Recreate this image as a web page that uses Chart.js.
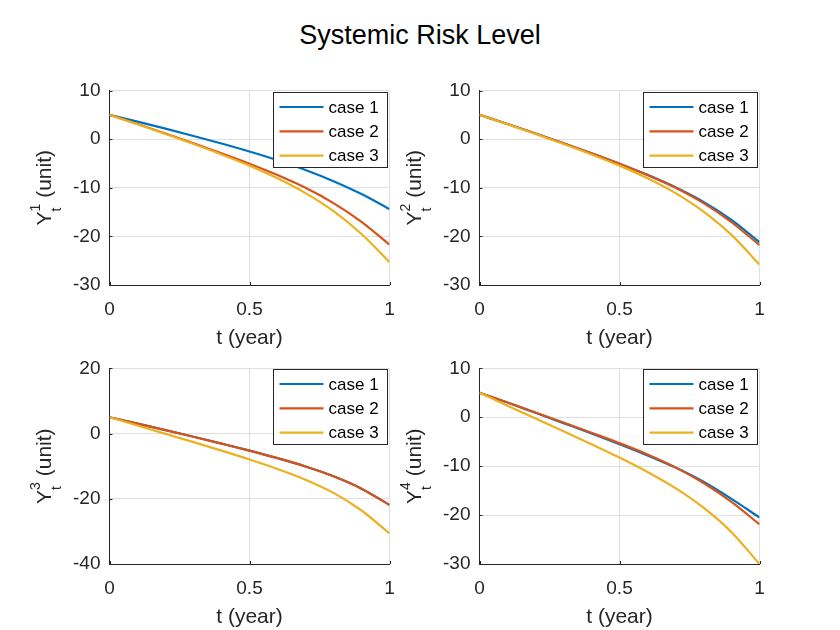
<!DOCTYPE html>
<html lang="en">
<head>
    <meta charset="UTF-8">
    <title>Systemic Risk Level</title>
    <script src="https://cdn.jsdelivr.net/npm/chart.js"></script>
    <style>
        body { margin: 0; background: #fff; }
        #page { position: relative; width: 840px; height: 630px; overflow: hidden; }
        #title {
            position: absolute; left: 0; top: 22px; width: 840px;
            text-align: center; font: 27px "Liberation Sans", Arial, sans-serif;
            line-height: 27px; color: #000;
        }
        canvas { position: absolute; }
    </style>
</head>
<body>
<div id="page">
    <div id="title">Systemic Risk Level</div>
    <canvas id="p1" width="470" height="300" style="left:0;top:60px"></canvas>
    <canvas id="p2" width="470" height="300" style="left:370px;top:60px"></canvas>
    <canvas id="p3" width="470" height="290" style="left:0;top:340px"></canvas>
    <canvas id="p4" width="470" height="290" style="left:370px;top:340px"></canvas>
</div>

<script>
    // time grid (year)
    const tValues = [0, 0.1, 0.2, 0.3, 0.4, 0.5, 0.6, 0.7, 0.8, 0.9, 1];
    const caseLabels = ['case 1', 'case 2', 'case 3'];
    const caseColors = ['#0072BD', '#D95319', '#EDB120'];

    // values
    const y1Case1 = [5, 3.6, 2.15, 0.65, -0.9, -2.55, -4.35, -6.35, -8.65, -11.3, -14.4];
    const y1Case2 = [5, 3.1, 1.15, -0.85, -2.9, -5.05, -7.4, -10.0, -13.15, -17.0, -21.7];
    const y1Case3 = [5, 3.05, 1.05, -1.0, -3.15, -5.45, -8.05, -11.1, -14.8, -19.5, -25.3];

    const y2Case1 = [5, 3.1, 1.15, -0.85, -2.9, -5.05, -7.35, -9.9, -12.9, -16.6, -21.2];
    const y2Case2 = [5, 3.1, 1.15, -0.85, -2.9, -5.05, -7.4, -10.0, -13.15, -17.05, -21.8];
    const y2Case3 = [5, 3.05, 1.05, -1.0, -3.15, -5.45, -8.05, -11.1, -14.9, -19.7, -25.8];

    const y3Case1 = [5, 3.05, 1.05, -1.0, -3.1, -5.25, -7.55, -10.1, -13.1, -16.9, -21.9];
    const y3Case2 = [5, 3.05, 1.05, -1.0, -3.1, -5.25, -7.55, -10.1, -13.1, -16.9, -21.9];
    const y3Case3 = [5, 2.45, -0.1, -2.65, -5.25, -7.95, -10.85, -14.15, -18.2, -23.6, -30.6];

    const y4Case1 = [5, 3.0, 0.9, -1.2, -3.3, -5.5, -7.8, -10.3, -13.2, -16.7, -20.5];
    const y4Case2 = [5, 3.0, 0.98, -1.08, -3.17, -5.3, -7.6, -10.25, -13.45, -17.3, -21.9];
    const y4Case3 = [5, 2.35, -0.25, -2.85, -5.5, -8.25, -11.2, -14.5, -18.5, -23.5, -30.0];

    // tick labels
    const xTicks = [0, 0.5, 1];
    const yTicksA = [-30, -20, -10, 0, 10];
    const yTicksB = [-40, -20, 0, 20];

    const FONT = '"Liberation Sans", Arial, sans-serif';
    const AXIS = '#262626';
    Chart.defaults.font.family = FONT;
    Chart.defaults.color = AXIS;

    // legend box, y label with super/subscript, inward ticks
    const matlabLook = {
        id: 'matlabLook',
        afterDatasetsDraw(chart, args, opts) {
            const ctx = chart.ctx, ca = chart.chartArea;
            // inward tick marks
            ctx.save();
            ctx.strokeStyle = AXIS;
            ctx.lineWidth = 1;
            const ys = chart.scales.y, xs = chart.scales.x;
            ctx.beginPath();
            ys.ticks.forEach(t => {
                const py = Math.round(ys.getPixelForValue(t.value)) + 0.5;
                ctx.moveTo(ca.left, py); ctx.lineTo(ca.left + 3, py);
            });
            xs.ticks.forEach(t => {
                const px = Math.round(xs.getPixelForValue(t.value)) + 0.5;
                ctx.moveTo(px, ca.bottom); ctx.lineTo(px, ca.bottom - 3);
            });
            ctx.stroke();

            // legend
            const w = 114, h = 75;
            const x1 = Math.round(ca.right - 3 - w) + 0.5, y1 = Math.round(ca.top + 1) + 0.5;
            ctx.fillStyle = '#fff';
            ctx.fillRect(x1, y1, w, h);
            ctx.strokeStyle = AXIS;
            ctx.strokeRect(x1, y1, w, h);
            ctx.font = '17px ' + FONT;
            ctx.textBaseline = 'middle';
            ctx.textAlign = 'left';
            chart.data.datasets.forEach((ds, i) => {
                const ry = y1 + 14.5 + i * 24.3;
                ctx.strokeStyle = ds.borderColor;
                ctx.lineWidth = 2.2;
                ctx.beginPath();
                ctx.moveTo(x1 + 6, ry); ctx.lineTo(x1 + 50, ry);
                ctx.stroke();
                ctx.fillStyle = '#000';
                ctx.fillText(ds.label, x1 + 55, ry + 1);
            });

            // y axis label  Y^k_t (unit)
            ctx.translate(ca.left - 59, (ca.top + ca.bottom) / 2);
            ctx.rotate(-Math.PI / 2);
            ctx.fillStyle = AXIS;
            ctx.textBaseline = 'alphabetic';
            const big = '21px ' + FONT, small = '14px ' + FONT;
            ctx.font = big;
            const wY = ctx.measureText('Y').width;
            const wU = ctx.measureText(' (unit)').width;
            ctx.font = small;
            const wS = Math.max(ctx.measureText(opts.sup).width, ctx.measureText('t').width);
            let x = -(wY + wS + wU) / 2;
            ctx.font = big;
            ctx.fillText('Y', x, 0);
            ctx.font = small;
            ctx.fillText(opts.sup, x + wY, -11);
            ctx.fillText('t', x + wY, 10);
            ctx.font = big;
            ctx.fillText(' (unit)', x + wY + wS, 0);
            ctx.restore();
        }
    };

    function makePanel(id, series, yTicks, sup, geo) {
        const datasets = series.map((vals, i) => ({
            label: caseLabels[i],
            data: vals.map((v, j) => ({ x: tValues[j], y: v })),
            borderColor: caseColors[i],
            borderWidth: 2.2,
            pointRadius: 0,
            fill: false,
            cubicInterpolationMode: 'monotone',
            order: 3 - i
        }));
        return new Chart(document.getElementById(id), {
            type: 'line',
            data: { datasets: datasets },
            plugins: [matlabLook],
            options: {
                responsive: false,
                animation: false,
                layout: { padding: { top: geo.top, right: 80.5, left: 0, bottom: 0 } },
                plugins: {
                    legend: { display: false },
                    tooltip: { enabled: false },
                    matlabLook: { sup: sup }
                },
                scales: {
                    x: {
                        type: 'linear',
                        min: 0, max: 1,
                        afterBuildTicks: s => { s.ticks = xTicks.map(v => ({ value: v })); },
                        afterFit: s => { s.height = geo.xh; },
                        grid: { color: '#dfdfdf', drawTicks: false },
                        border: { display: true, color: AXIS, width: 1 },
                        ticks: {
                            padding: 13, font: { size: 19 }, color: AXIS, maxRotation: 0,
                            callback: v => String(v)
                        },
                        title: {
                            display: true, text: 't (year)', color: AXIS,
                            font: { size: 21 }, padding: { top: 0, bottom: geo.tpad }
                        }
                    },
                    y: {
                        min: yTicks[0], max: yTicks[yTicks.length - 1],
                        afterBuildTicks: s => { s.ticks = yTicks.map(v => ({ value: v })); },
                        afterFit: s => { s.width = 109.5; },
                        grid: { color: '#dfdfdf', drawTicks: false },
                        border: { display: true, color: AXIS, width: 1 },
                        ticks: { padding: 9, font: { size: 19 }, color: AXIS, callback: v => String(v) }
                    }
                }
            }
        });
    }

    const topGeo = { top: 30.5, xh: 75, tpad: 9 };
    const botGeo = { top: 28.3, xh: 66, tpad: 0 };

    makePanel('p1', [y1Case1, y1Case2, y1Case3], yTicksA, '1', topGeo);
    makePanel('p2', [y2Case1, y2Case2, y2Case3], yTicksA, '2', topGeo);
    makePanel('p3', [y3Case1, y3Case2, y3Case3], yTicksB, '3', botGeo);
    makePanel('p4', [y4Case1, y4Case2, y4Case3], yTicksA, '4', botGeo);
</script>
</body>
</html>
